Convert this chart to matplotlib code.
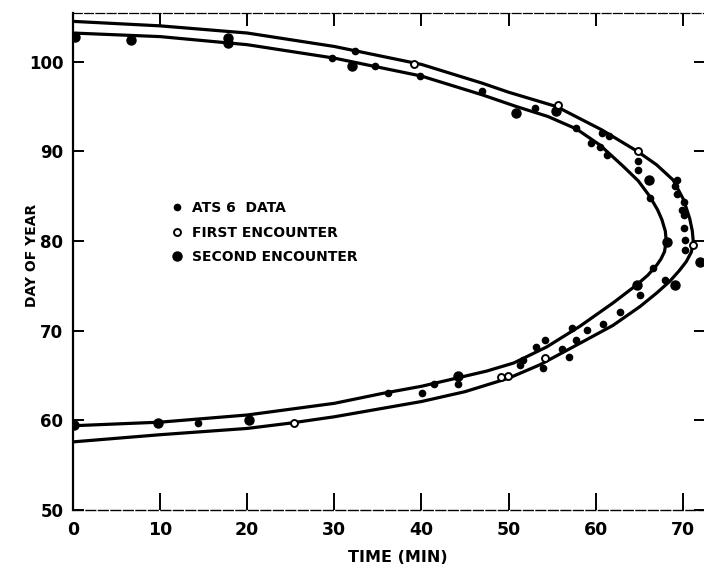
import matplotlib
matplotlib.use("Agg")
import matplotlib.pyplot as plt

plt.rcParams['font.family'] = ['DejaVu Sans']
plt.rcParams['font.weight'] = 'bold'

# ---- fitted curves (time in min, day of year) ----
outer_time = [0, 10, 20, 30, 40, 47, 50, 55.5, 60.7, 64.8, 67.0, 68.9, 70.1, 70.8, 71.1, 71.2,
              71.0, 70.4, 69.6, 68.5, 67.0, 65.1, 62.0, 58.2, 53.6, 50.0, 45.0, 40.0, 30.0,
              25.0, 20.0, 10.0, 0]
outer_day = [104.5, 104.0, 103.2, 101.7, 99.7, 97.6, 96.6, 95.0, 92.4, 90.0, 88.5, 86.8, 84.6,
             82.5, 81.1, 80.0, 78.8, 77.7, 76.7, 75.5, 74.2, 72.7, 70.6, 68.6, 66.2, 64.7, 63.2,
             62.1, 60.4, 59.7, 59.1, 58.4, 57.6]

inner_time = [0, 10, 20, 30, 40, 47, 50.9, 54.5, 57.8, 60.5, 63.2, 64.9, 66.2, 67.1, 67.6, 68.0,
              68.1, 67.9, 67.5, 67.0, 66.0, 64.7, 62.0, 58.2, 54.4, 50.6, 47.5, 44.0, 40.0,
              35.5, 30.0, 20.0, 10.0, 0]
inner_day = [103.2, 102.8, 101.9, 100.4, 98.4, 96.3, 95.0, 93.9, 92.5, 90.7, 88.3, 86.7, 85.0,
             83.5, 82.4, 81.1, 80.0, 78.8, 78.0, 77.3, 76.2, 75.1, 73.1, 70.5, 68.2, 66.4, 65.5,
             64.7, 63.8, 63.0, 61.9, 60.6, 59.8, 59.4]

# ---- data points ----
ats_time = [29.7, 32.4, 34.7, 39.8, 46.9, 53.0, 57.8, 60.5, 61.3, 61.5, 60.7, 59.5,
            64.9, 64.9, 66.2, 69.3, 69.1, 69.3, 70.1, 69.9, 70.1, 70.1, 70.3, 70.3,
            66.6, 68.0, 65.1, 62.8, 60.9, 59.0, 57.3, 57.8, 54.2, 53.2, 56.1, 56.9,
            51.7, 51.3, 54.0, 44.2, 41.4, 40.1, 36.2, 14.3]
ats_day = [100.4, 101.2, 99.5, 98.4, 96.7, 94.8, 92.6, 90.5, 89.6, 91.7, 92.0, 90.9,
           88.9, 87.9, 84.8, 86.8, 86.1, 85.2, 84.4, 83.5, 82.9, 81.4, 80.1, 79.0,
           77.0, 75.7, 74.0, 72.1, 70.8, 70.1, 70.3, 69.0, 69.0, 68.2, 68.0, 67.1,
           66.7, 66.2, 65.8, 64.1, 64.0, 63.0, 63.0, 59.7]

first_time = [39.1, 55.7, 64.9, 71.2, 54.2, 49.1, 49.9, 25.4]
first_day = [99.7, 95.2, 90.0, 79.6, 67.0, 64.8, 64.9, 59.7]

second_time = [0.2, 6.7, 17.8, 17.8, 32.0, 50.9, 55.5, 66.1, 68.2, 69.1, 72.0, 64.7,
               9.8, 20.2, 44.2, 0.1]
second_day = [102.8, 102.4, 102.7, 102.1, 99.5, 94.3, 94.5, 86.8, 79.9, 75.1, 77.7, 75.1,
              59.7, 60.0, 64.9, 59.5]

labels = ["ATS 6  DATA", "FIRST ENCOUNTER", "SECOND ENCOUNTER"]
x_ticks = [0, 10, 20, 30, 40, 50, 60, 70]
y_ticks = [50, 60, 70, 80, 90, 100]

fig = plt.figure(figsize=(7.04, 5.66), dpi=100)
ax = fig.add_axes([0.1037, 0.0989, 0.8983, 0.8776])

for tt, dd in ((outer_time, outer_day), (inner_time, inner_day)):
    ax.plot(tt, dd, color='black', lw=2.3, solid_joinstyle='round',
            solid_capstyle='round', zorder=2)

h1, = ax.plot(ats_time, ats_day, 'o', color='black', ms=4.5, ls='none', zorder=3, label=labels[0])
h2, = ax.plot(first_time, first_day, 'o', mfc='white', mec='black', mew=1.4, ms=5,
              ls='none', zorder=4, label=labels[1])
h3, = ax.plot(second_time, second_day, 'o', color='black', ms=6.5, ls='none', zorder=3,
              label=labels[2])

ax.set_xlim(0, 72.6)
ax.set_ylim(50, 105.4)
ax.set_xticks(x_ticks)
ax.set_yticks(y_ticks)
ax.set_xticklabels([str(v) for v in x_ticks])
ax.set_yticklabels([str(v) for v in y_ticks])

ax.tick_params(axis='x', direction='in', length=12, width=1.4, top=False, bottom=True,
               labelsize=12.5, pad=8)
ax.tick_params(axis='y', direction='in', length=8, width=1.4, left=True, right=True,
               labelsize=12, pad=7)
for lab in ax.get_xticklabels() + ax.get_yticklabels():
    lab.set_fontweight('bold')

# top ticks (shorter) via a secondary axis
sec = ax.secondary_xaxis('top')
sec.set_xticks(x_ticks[1:])
sec.tick_params(axis='x', direction='in', length=9, width=1.4, labeltop=False)
sec.spines['top'].set_linestyle((0, (7, 2)))
sec.spines['top'].set_linewidth(0.9)

ax.spines['top'].set_visible(False)
ax.spines['right'].set_visible(False)
ax.spines['left'].set_linewidth(1.6)
ax.spines['bottom'].set_linewidth(1.0)
ax.spines['bottom'].set_linestyle((0, (7, 2)))

ax.set_xlabel("TIME (MIN)", fontsize=11.5, fontweight='bold')
ax.xaxis.set_label_coords(0.513, -0.080)
ax.set_ylabel("DAY OF YEAR", fontsize=10, fontweight='bold')
ax.yaxis.set_label_coords(-0.053, 0.513)

leg = ax.legend(handles=[h1, h2, h3], labels=labels, loc='upper left',
                bbox_to_anchor=(0.2436, 0.6449), bbox_transform=fig.transFigure,
                frameon=False, borderpad=0, borderaxespad=0, handlelength=0.8,
                handletextpad=0.7, labelspacing=0.76,
                prop={'size': 10, 'weight': 'bold'})

fig.savefig("out.png", dpi=100)
